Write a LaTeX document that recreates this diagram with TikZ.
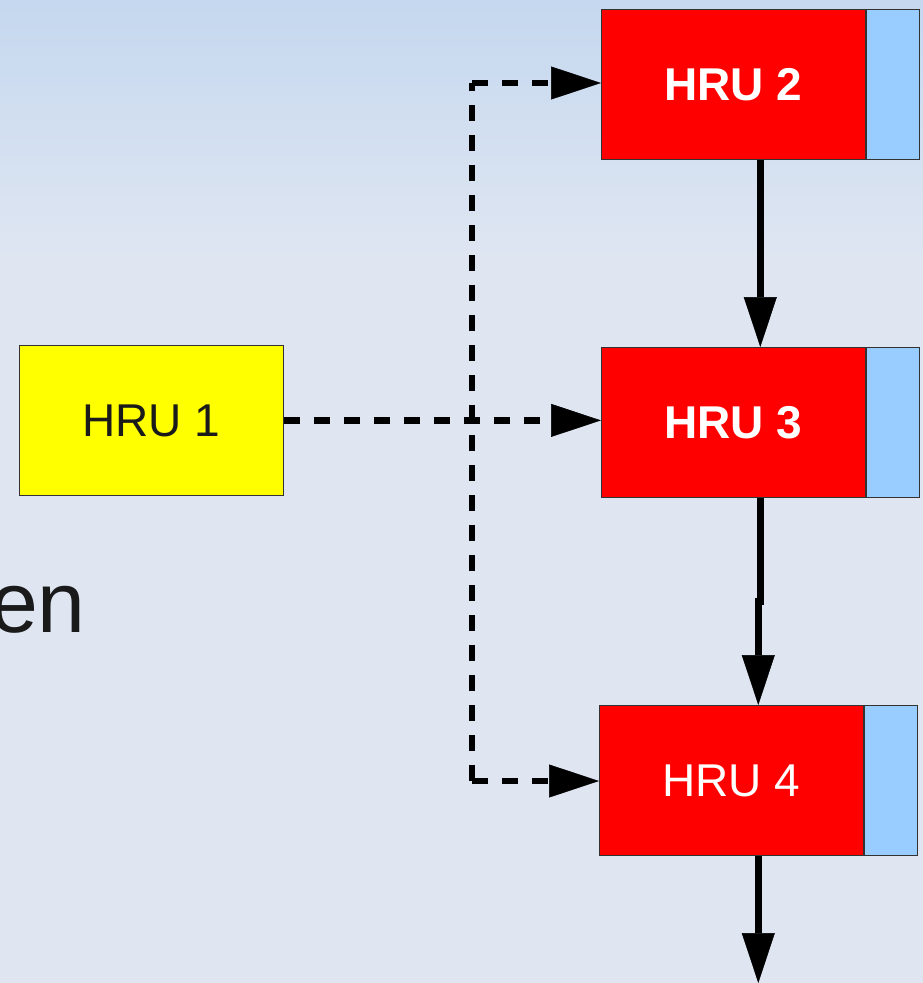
\documentclass[tikz,border=0pt]{standalone}
\usepackage{fontspec}
\setmainfont{Liberation Sans}
\usetikzlibrary{arrows.meta,calc}
\definecolor{bgtop}{RGB}{197,216,239}
\definecolor{bgbot}{RGB}{223,230,242}
\definecolor{hrured}{RGB}{255,0,0}
\definecolor{hrublue}{RGB}{153,204,255}
\definecolor{hruyellow}{RGB}{255,255,0}
\definecolor{boxline}{RGB}{50,50,50}
\definecolor{txtdark}{RGB}{26,26,26}
\begin{document}
\begin{tikzpicture}[x=1pt,y=-1pt,
  box/.style={draw=boxline, line width=0.8pt, minimum width=264pt, minimum height=150pt,
    inner sep=0pt, anchor=north west, font=\fontsize{46}{50}\selectfont},
  redbox/.style={box, fill=hrured, text=white},
  yellowbox/.style={box, fill=hruyellow, text=txtdark},
  sidebox/.style={draw=boxline, line width=0.8pt, fill=hrublue, minimum width=53pt,
    minimum height=150pt, inner sep=0pt, anchor=north west},
  flow/.style={line width=6.5pt, -{Triangle[length=50pt,width=33pt,line width=0.5pt]}},
  dflow/.style={line width=6.5pt, dash pattern=on 16pt off 14pt},
  dflowarrow/.style={dflow, -{Triangle[length=50pt,width=33pt,line width=0.5pt]}},
]
\useasboundingbox (0,0) rectangle (923,983);
\shade[top color=bgtop, bottom color=bgbot] (0,0) rectangle (923,260);
\fill[bgbot] (0,259) rectangle (923,983);

\node[anchor=base east, inner sep=0pt, text=txtdark, font=\fontsize{86}{90}\selectfont] (en) at (86,632) {en};

\node[yellowbox] (h1) at (19,345) {HRU 1};
\node[redbox, font=\fontsize{46}{50}\selectfont\bfseries] (h2) at (601,9) {HRU 2};
\node[sidebox] (b2) at (h2.north east) {};
\node[redbox, font=\fontsize{46}{50}\selectfont\bfseries] (h3) at (601,347) {HRU 3};
\node[sidebox] (b3) at (h3.north east) {};
\node[redbox] (h4) at (599,705) {HRU 4};
\node[sidebox] (b4) at (h4.north east) {};

% dashed feeds
\coordinate (vt) at (472,83);
\coordinate (vb) at (472,781);
\draw[dflow] (vb) -- (vt);
\draw[dflowarrow] (vt) -- (vt -| h2.west);
\draw[dflowarrow] (h1.east) -- (h1.east -| h3.west);
\draw[dflowarrow] (vb) -- (vb -| h4.west);

% solid routing
\coordinate (s2) at ($(h2.south west)!0.5!(b2.south east)$);
\coordinate (t3) at ($(h3.north west)!0.5!(b3.north east)$);
\coordinate (s3) at ($(h3.south west)!0.5!(b3.south east)$);
\coordinate (t4) at ($(h4.north west)!0.5!(b4.north east)$);
\coordinate (s4) at ($(h4.south west)!0.5!(b4.south east)$);
\coordinate (out) at (s4 |- 0,983);
\draw[flow] (s2) -- (t3);
\draw[flow] (s3) -- ($(s3)!0.5!(s3 |- t4)$) -| (t4);
\draw[flow] (s4) -- (out);
\end{tikzpicture}
\end{document}
